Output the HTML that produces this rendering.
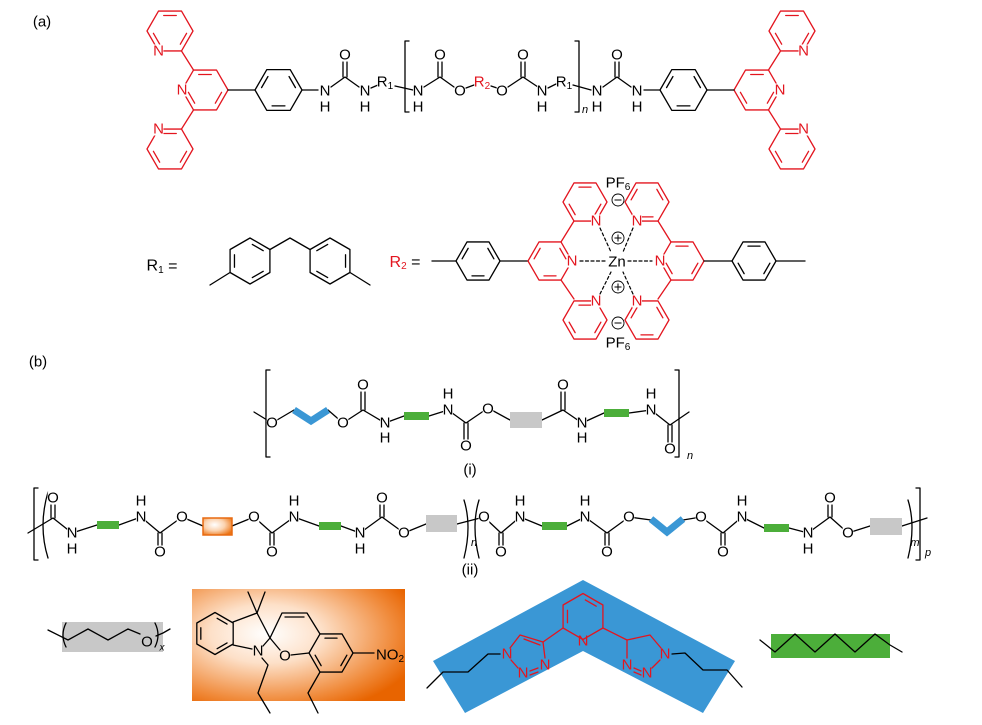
<!DOCTYPE html>
<html><head><meta charset="utf-8"><style>
html,body{margin:0;padding:0;background:#fff;}
svg{display:block;font-family:"Liberation Sans",Arial,sans-serif;}
.t{font-size:15px;text-anchor:middle;dominant-baseline:central;}
.n{font-size:15px;text-anchor:middle;dominant-baseline:central;}
.r{fill:#e3151f;}
.s{font-size:10px;}
</style></head><body>
<svg id="svg" width="982" height="725" viewBox="0 0 982 725" xmlns="http://www.w3.org/2000/svg">
<defs>
<radialGradient id="og" cx="0.35" cy="0.4" r="0.75">
<stop offset="0" stop-color="#ffffff"/><stop offset="0.35" stop-color="#fde0c8"/><stop offset="0.8" stop-color="#f08a3a"/><stop offset="1" stop-color="#e86400"/>
</radialGradient>
<radialGradient id="og2" cx="0.4" cy="0.4" r="0.7">
<stop offset="0" stop-color="#ffffff"/><stop offset="0.5" stop-color="#fbd3b0"/><stop offset="1" stop-color="#ec7414"/>
</radialGradient>
</defs>
<g id="shapes">
<rect x="62" y="622" width="101" height="30" fill="#c8c8c8"/>
<rect x="192" y="589" width="213" height="112" fill="url(#og)"/>
<polygon points="583,580 735,661 703,713 583,651 465,713 433,661" fill="#3a97d5"/>
<rect x="771" y="634" width="119" height="24" fill="#4cae3a"/>
</g>
<g id="bonds" fill="none" stroke-width="1.3" stroke-linecap="round" stroke-linejoin="round"></g>
<g id="deco"></g>
<g id="bg"></g>
<g id="txt">
<text x="42" y="22" class="n" style="font-size:15px">(a)</text>
<text x="38" y="362" class="n" style="font-size:15px">(b)</text>
<text x="182" y="90" class="t r">N</text>
<text x="158.5" y="51" class="t r">N</text>
<text x="158.5" y="129" class="t r">N</text>
<text x="325" y="91" class="t">N</text><text x="325" y="107" class="t">H</text>
<text x="345" y="55" class="t">O</text>
<text x="365" y="91" class="t">N</text><text x="365" y="107" class="t">H</text>
<text x="385" y="82" class="t">R<tspan class="s" dy="4">1</tspan></text>
<text x="418" y="91" class="t">N</text><text x="418" y="107" class="t">H</text>
<text x="440" y="55" class="t">O</text>
<text x="460" y="91" class="t">O</text>
<text x="482" y="82" class="t r">R<tspan class="s" dy="4">2</tspan></text>
<text x="502" y="91" class="t">O</text>
<text x="523" y="55" class="t">O</text>
<text x="542" y="91" class="t">N</text><text x="542" y="107" class="t">H</text>
<text x="564" y="82" class="t">R<tspan class="s" dy="4">1</tspan></text>
<text x="585" y="110" class="n" style="font-size:11px;font-style:italic">n</text>
<text x="597" y="91" class="t">N</text><text x="597" y="107" class="t">H</text>
<text x="617" y="55" class="t">O</text>
<text x="637" y="91" class="t">N</text><text x="637" y="107" class="t">H</text>
<text x="780" y="90" class="t r">N</text>
<text x="803.5" y="51" class="t r">N</text>
<text x="803.5" y="129" class="t r">N</text>
<text x="162" y="266" class="n" style="font-size:16px">R<tspan class="s" dy="4">1</tspan><tspan dy="-4"> =</tspan></text>
<text x="405" y="262" class="n" style="font-size:16px"><tspan class="r">R</tspan><tspan class="s r" dy="4">2</tspan><tspan dy="-4"> =</tspan></text>
<text x="572" y="261" class="t r">N</text>
<text x="596" y="221" class="t r">N</text>
<text x="596" y="301" class="t r">N</text>
<text x="660" y="261" class="t r">N</text>
<text x="637" y="221" class="t r">N</text>
<text x="637" y="301" class="t r">N</text>
<text x="617" y="262" class="t">Zn</text>
<text x="618" y="183" class="n">PF<tspan class="s" dy="4">6</tspan></text>
<text x="618" y="343" class="n">PF<tspan class="s" dy="4">6</tspan></text>
<text x="272" y="423" class="t">O</text>
<text x="343" y="423" class="t">O</text>
<text x="363" y="385" class="t">O</text>
<text x="385" y="423" class="t">N</text><text x="385" y="438" class="t">H</text>
<text x="448" y="410" class="t">N</text><text x="448" y="394" class="t">H</text>
<text x="466" y="446" class="t">O</text>
<text x="488" y="409" class="t">O</text>
<text x="563" y="385" class="t">O</text>
<text x="582" y="423" class="t">N</text><text x="582" y="438" class="t">H</text>
<text x="651" y="410" class="t">N</text><text x="651" y="394" class="t">H</text>
<text x="670" y="449" class="t">O</text>
<text x="690" y="456" class="n" style="font-size:11px;font-style:italic">n</text>
<text x="470" y="470" class="n">(i)</text>
<text x="53" y="498" class="t">O</text>
<text x="72" y="533" class="t">N</text><text x="72" y="549" class="t">H</text>
<text x="141" y="517" class="t">N</text><text x="141" y="501" class="t">H</text>
<text x="160" y="552" class="t">O</text>
<text x="182" y="517" class="t">O</text>
<text x="254" y="517" class="t">O</text>
<text x="272" y="552" class="t">O</text>
<text x="294" y="517" class="t">N</text><text x="294" y="501" class="t">H</text>
<text x="360" y="533" class="t">N</text><text x="360" y="549" class="t">H</text>
<text x="382" y="498" class="t">O</text>
<text x="404" y="533" class="t">O</text>
<text x="474" y="543" class="n" style="font-size:11px;font-style:italic">n</text>
<text x="484" y="517" class="t">O</text>
<text x="501" y="552" class="t">O</text>
<text x="520" y="517" class="t">N</text><text x="520" y="501" class="t">H</text>
<text x="585" y="517" class="t">N</text><text x="585" y="501" class="t">H</text>
<text x="607" y="552" class="t">O</text>
<text x="629" y="517" class="t">O</text>
<text x="701" y="517" class="t">O</text>
<text x="723" y="552" class="t">O</text>
<text x="742" y="517" class="t">N</text><text x="742" y="501" class="t">H</text>
<text x="808" y="533" class="t">N</text><text x="808" y="549" class="t">H</text>
<text x="830" y="498" class="t">O</text>
<text x="848" y="533" class="t">O</text>
<text x="915" y="543" class="n" style="font-size:11px;font-style:italic">m</text>
<text x="928" y="553" class="n" style="font-size:11px;font-style:italic">p</text>
<text x="470" y="570" class="n">(ii)</text>
<text x="147" y="642" class="n">O</text>
<text x="162" y="648" class="n" style="font-size:10px;font-style:italic">x</text>
<text x="258" y="651" class="n">N</text>
<text x="285" y="656" class="n">O</text>
<text x="390" y="655" class="n">NO<tspan class="s" dy="4">2</tspan></text>
<text x="583" y="641" class="n r">N</text>
<text x="507" y="654" class="n r">N</text>
<text x="523" y="673" class="n r">N</text>
<text x="545" y="665" class="n r">N</text>
<text x="665" y="654" class="n r">N</text>
<text x="647" y="673" class="n r">N</text>
<text x="627" y="665" class="n r">N</text>
</g>
<script>
(function(){
var B=document.getElementById('bonds'),D=document.getElementById('deco'),NS='http://www.w3.org/2000/svg';
var RED='#e3151f';
function L(p,c,w,par){var e=document.createElementNS(NS,'polyline');e.setAttribute('points',p.map(function(q){return q[0]+','+q[1]}).join(' '));e.setAttribute('stroke',c||'#000');e.setAttribute('fill','none');if(w)e.setAttribute('stroke-width',w);(par||B).appendChild(e);}
function R(x,y,w,h,f,st){var e=document.createElementNS(NS,'rect');e.setAttribute('x',x);e.setAttribute('y',y);e.setAttribute('width',w);e.setAttribute('height',h);e.setAttribute('fill',f);if(st){e.setAttribute('stroke',st);e.setAttribute('stroke-width','1.5');}D.appendChild(e);}
function P(d){var e=document.createElementNS(NS,'path');e.setAttribute('d',d);e.setAttribute('stroke','#000');e.setAttribute('fill','none');B.appendChild(e);}
function ring(cx,cy,r,rot,c,dbl){var v=[];for(var i=0;i<6;i++){var a=(rot+60*i)*Math.PI/180;v.push([cx+r*Math.cos(a),cy+r*Math.sin(a)]);}
 L(v.concat([v[0]]),c);
 (dbl||[]).forEach(function(k){var a=v[k],b=v[(k+1)%6];var f=0.78;var a2=[cx+(a[0]-cx)*f,cy+(a[1]-cy)*f],b2=[cx+(b[0]-cx)*f,cy+(b[1]-cy)*f];var s=0.15;L([[a2[0]+(b2[0]-a2[0])*s,a2[1]+(b2[1]-a2[1])*s],[b2[0]+(a2[0]-b2[0])*s,b2[1]+(a2[1]-b2[1])*s]],c);});}
function dbl(x1,y1,x2,y2,c){var dx=x2-x1,dy=y2-y1,l=Math.hypot(dx,dy),nx=-dy/l*2,ny=dx/l*2;L([[x1+nx,y1+ny],[x2+nx,y2+ny]],c);L([[x1-nx,y1-ny],[x2-nx,y2-ny]],c);}
[function(x){return x},function(x){return 962-x}].forEach(function(m){
 ring(m(205),90,23,0,RED,[0,2,4]);
 ring(m(170),31,23,0,RED,[0,2,4]);
 ring(m(170),149,23,0,RED,[0,2,4]);
 L([[m(193.5),70],[m(181.5),51]],RED);L([[m(193.5),110],[m(181.5),129]],RED);
 L([[m(228),90],[m(255),90]]);ring(m(278.5),90,23.5,0,'#000',[1,3,5]);
 L([[m(302),90],[m(318),90]]);
 L([[m(331),87],[m(345),77],[m(359),87]]);dbl(m(345),77,m(345),62);
});
L([[371,88],[378,85]]);L([[395,86],[413,90]]);
L([[409,41],[405,41],[405,112],[409,112]]);
L([[424,87],[440,77],[454,87]]);dbl(440,77,440,62);
L([[466,88],[474,85]]);L([[491,86],[497,88]]);
L([[508,87],[523,77],[538,87]]);dbl(523,77,523,62);
L([[548,88],[556,84]]);L([[573,85],[591,90]]);
L([[575,41],[579,41],[579,112],[575,112]]);
ring(250,261,23,-90,'#000',[0,2,4]);ring(330,261,23,-90,'#000',[1,3,5]);
L([[270,249.5],[290,238],[310,249.5]]);L([[230,272.5],[210,285]]);L([[350,272.5],[370,285]]);
L([[432,261],[456,261]]);ring(478,261,22,0,'#000',[1,3,5]);L([[500,261],[528,261]]);
ring(550,261,22,0,RED,[1,3,5]);ring(585,202,22,0,RED,[0,2,4]);ring(585,320,22,0,RED,[0,2,4]);
L([[561,242],[574,221]],RED);L([[561,280],[574,299]],RED);
ring(682,261,22,0,RED,[0,2,4]);ring(647,202,22,0,RED,[1,3,5]);ring(647,320,22,0,RED,[1,3,5]);
L([[671,242],[658,221]],RED);L([[671,280],[658,299]],RED);
L([[704,261],[732,261]]);ring(754,261,22,0,'#000',[0,2,4]);L([[776,261],[805,261]]);
[[[580,261],[606,261]],[[628,261],[652,261]],[[600,228],[611,252]],[[633,228],[623,252]],[[600,294],[611,272]],[[633,294],[623,272]]].forEach(function(s){var e=document.createElementNS(NS,'line');e.setAttribute('x1',s[0][0]);e.setAttribute('y1',s[0][1]);e.setAttribute('x2',s[1][0]);e.setAttribute('y2',s[1][1]);e.setAttribute('stroke','#000');e.setAttribute('stroke-width','1.2');e.setAttribute('stroke-dasharray','3,2.5');B.appendChild(e);});
function circ(x,y,ch){var c=document.createElementNS(NS,'circle');c.setAttribute('cx',x);c.setAttribute('cy',y);c.setAttribute('r',6);c.setAttribute('fill','#fff');c.setAttribute('stroke','#000');c.setAttribute('stroke-width','0.9');D.appendChild(c);
 L([[x-3.5,y],[x+3.5,y]],'#000',1,D);if(ch=='+')L([[x,y-3.5],[x,y+3.5]],'#000',1,D);}
circ(618,200,'-');circ(618,323,'-');circ(618,238,'+');circ(618,287,'+');
// (i)
L([[270,370],[266,370],[266,457],[270,457]]);L([[675,370],[679,370],[679,457],[675,457]]);
L([[254,412],[272,423],[294,410]]);L([[328,410],[343,423],[363,410],[385,423],[404,416]]);
L([[429,416],[448,410]]);L([[448,410],[466,423],[488,408],[510,420]]);
L([[542,420],[563,410],[582,423],[604,413]]);L([[629,413],[651,410],[670,425],[689,412]]);
dbl(363,410,363,392);dbl(466,423,466,440);dbl(563,410,563,392);dbl(670,425,670,442);
L([[294,410],[311,421],[328,410]],'#3a97d5',7,D);
R(404,412,25,8,'#4cae3a');R(510,412,32,16,'#c8c8c8');R(604,409,25,8,'#4cae3a');
// (ii)
L([[38,488],[34,488],[34,560],[38,560]]);L([[916,488],[920,488],[920,560],[916,560]]);
P('M48,492 Q38,526 48,558');P('M464,500 Q472,526 464,558');P('M479,500 Q471,526 479,558');P('M908,500 Q916,526 908,558');
L([[28,533],[53,518],[72,533],[97,525]]);L([[119,525],[141,517],[160,533],[182,517],[203,526]]);
L([[232,526],[254,517],[272,533],[294,517],[319,526]]);L([[341,526],[360,533],[382,517],[404,533],[426,524]]);
L([[457,524],[484,517],[501,533],[520,517],[542,526]]);L([[567,526],[585,517],[607,533],[629,517],[651,520]]);
L([[683,520],[701,517],[723,533],[742,517],[764,528]]);L([[789,528],[808,533],[830,517],[848,533],[870,526]]);
L([[902,526],[927,518]]);
dbl(53,518,53,505);dbl(160,533,160,546);dbl(272,533,272,546);dbl(382,517,382,505);dbl(501,533,501,546);dbl(607,533,607,546);dbl(723,533,723,546);dbl(830,517,830,505);
L([[651,519],[667,532],[683,519]],'#3a97d5',7,D);
R(97,521,22,8,'#4cae3a');R(203,518,29,17,'url(#og2)','#e86a10');R(319,522,22,8,'#4cae3a');R(426,515,31,17,'#c8c8c8');
R(542,522,25,8,'#4cae3a');R(764,524,25,8,'#4cae3a');R(870,518,32,17,'#c8c8c8');
// bottom gray
L([[48,630],[68,640],[88,629],[108,640],[128,629],[140,634]]);L([[156,636],[163,633],[170,629]]);
P('M66,623 Q60,635 66,647');P('M155,623 Q161,635 155,647');
// spiropyran
ring(215,633.5,21,-90,'#000',[0,2,4]);
L([[233,622],[257,613],[270,638]]);L([[257,613],[248,592]]);L([[257,613],[265,592]]);
L([[233,645],[252,649]]);L([[263,646],[270,638]]);L([[270,638],[280,650]]);
L([[270,638],[282,613],[307,613],[320,634]]);L([[285,617],[304,617]]);
ring(331,653,22,0,'#000',[0,2,4]);L([[291,655],[309,653]]);L([[353,653],[374,653]]);
L([[320,672],[308,693],[318,713]]);L([[262,658],[268,665],[258,693],[270,713]]);
// bis-triazolyl pyridine
ring(583,616.5,23,-90,RED,[0,4]);
L([[563,628],[543,642]],RED);L([[603,628],[627,640]],RED);
L([[543,642],[520,635],[510,648]],RED);L([[524,639],[540,645]],RED);L([[543,642],[545,658]],RED);L([[511,660],[518,668]],RED);L([[530,671],[538,668]],RED);L([[530,675],[538,672]],RED);
L([[627,640],[650,635],[661,648]],RED);L([[627,640],[627,658]],RED);L([[660,660],[652,668]],RED);L([[634,668],[641,671]],RED);L([[634,672],[641,675]],RED);
L([[500,654],[488,654],[468,672],[443,672],[427,688]]);L([[672,654],[685,653],[703,670],[727,670],[742,687]]);
L([[760,640],[775,652],[795,634],[815,652],[835,634],[855,652],[875,634],[890,645],[902,652]]);
var bg=document.getElementById('bg');
Array.prototype.forEach.call(document.querySelectorAll('#txt text.t'),function(t){var b=t.getBBox();var e=document.createElementNS(NS,'rect');e.setAttribute('x',b.x+0.5);e.setAttribute('y',b.y+2);e.setAttribute('width',b.width-1);e.setAttribute('height',b.height-4);e.setAttribute('fill','#fff');bg.appendChild(e);});
})();
</script>
</svg>
</body></html>
